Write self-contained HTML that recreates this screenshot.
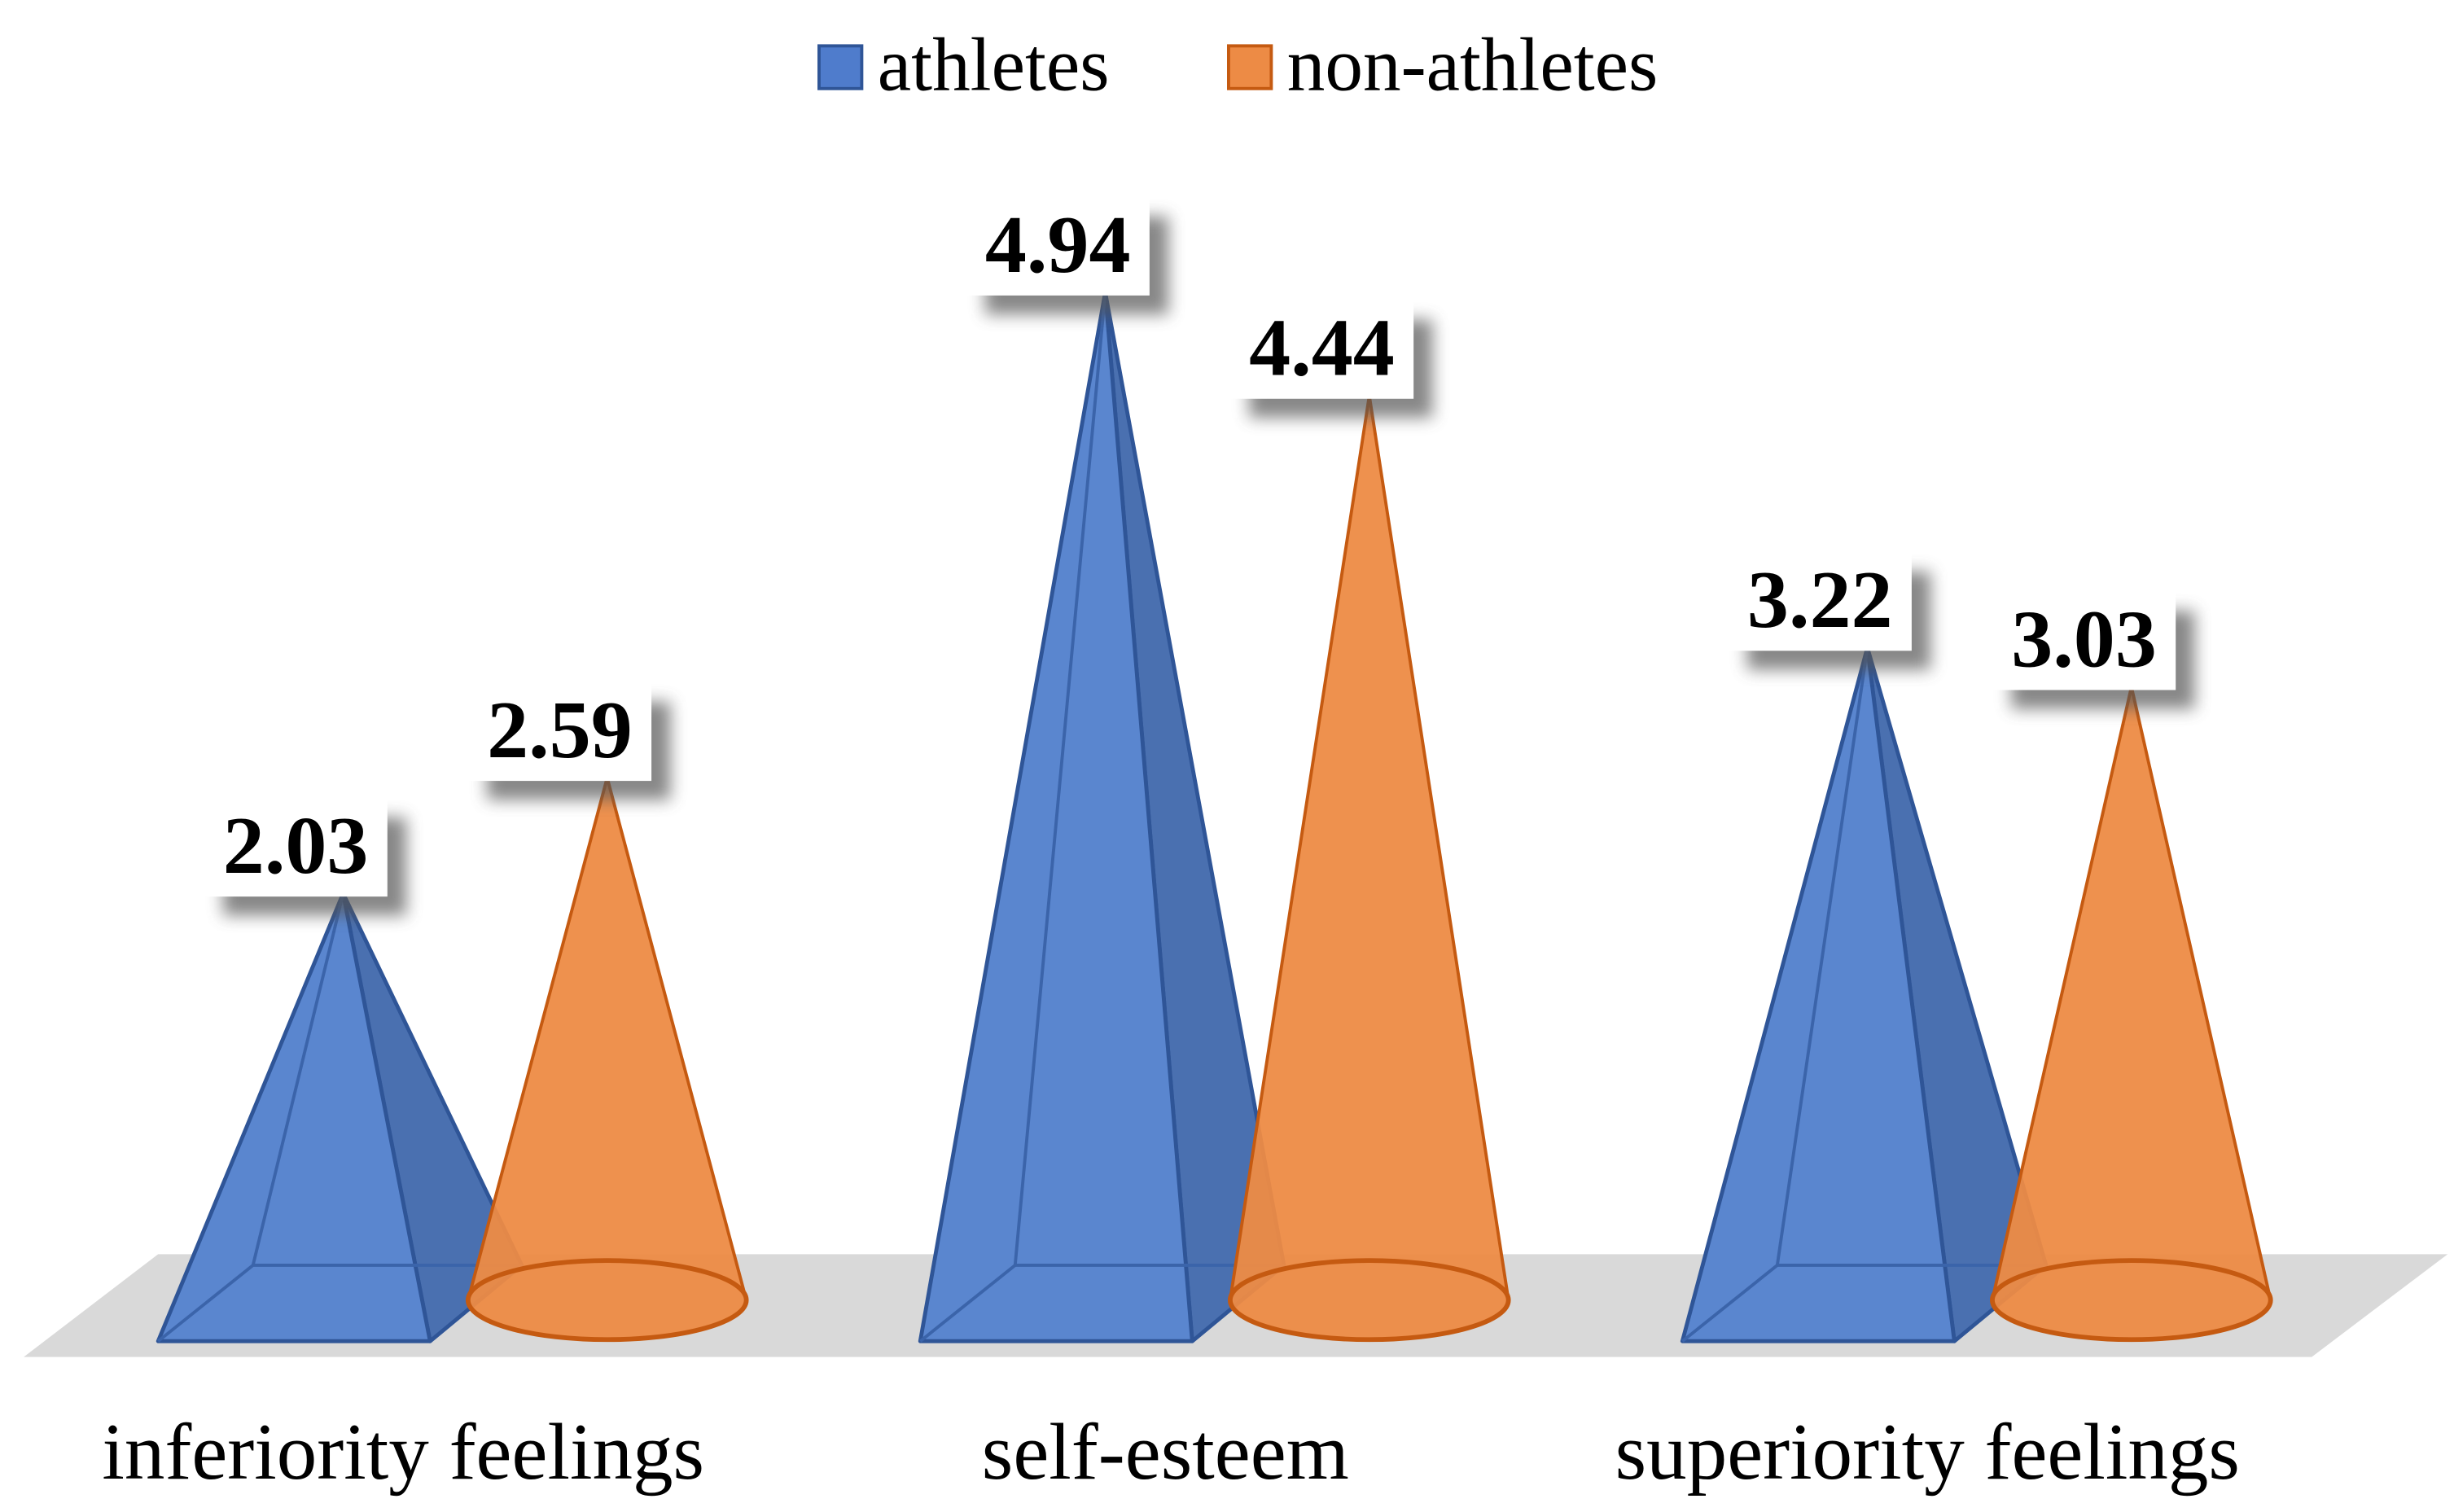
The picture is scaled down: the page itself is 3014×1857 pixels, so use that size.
<!DOCTYPE html>
<html><head><meta charset="utf-8"><style>
html,body{margin:0;padding:0;background:#fff;}
svg{display:block;font-family:"Liberation Serif",serif;}
</style></head><body>
<svg id="chart" width="3014" height="1857" viewBox="0 0 1552 956" preserveAspectRatio="none" xmlns="http://www.w3.org/2000/svg">
<defs>
<filter id="sh" x="-50%" y="-50%" width="200%" height="200%"><feGaussianBlur stdDeviation="5"/></filter>
</defs>
<g>
<rect x="518" y="29" width="27" height="27" fill="#4f7ccc" stroke="#2f5597" stroke-width="2"/>
<text x="555" y="57" font-size="48" fill="#000">athletes</text>
<rect x="777" y="29" width="27" height="27" fill="#ed8b45" stroke="#c55a11" stroke-width="2"/>
<text x="814" y="57" font-size="48" fill="#000">non-athletes</text>
</g>
<polygon points="15,858 1462,858 1548,793 100,793" fill="#d9d9d9"/>
<g id="marks"></g>
<g id="labels"></g>
</svg>
<script>
const categories = ["inferiority feelings", "self-esteem", "superiority feelings"];
const athletes = [2.03, 4.94, 3.22];
const nonAthletes = [2.59, 4.44, 3.03];

const NS = "http://www.w3.org/2000/svg";
const y = v => 830 - v * 130.6;
const groupX = i => 217 + i * 482;
const marks = document.getElementById('marks');
const labels = document.getElementById('labels');
function mk(tag, attrs, parent) {
  const e = document.createElementNS(NS, tag);
  for (const k in attrs) e.setAttribute(k, attrs[k]);
  parent.appendChild(e);
  return e;
}
function label(cx, ay, val, parent) {
  const g = mk('g', {}, parent);
  
  
  const s = mk('rect', {x: cx - 58 + 12, y: ay - 60 + 12, width: 116, height: 62, fill: '#555', opacity: 0.7, filter: 'url(#sh)'}, g);
  
  
  const r = mk('rect', {x: cx - 58, y: ay - 60, width: 116, height: 62, fill: '#fff'}, g);
  
  
  const t = mk('text', {x: cx, y: ay - 13, 'text-anchor': 'middle', 'font-size': 52, 'font-weight': 'bold', fill: '#000', textLength: 92, lengthAdjust: 'spacingAndGlyphs'}, g);
  
  
  t.textContent = val.toFixed(2);
}
categories.forEach((c, i) => {
  const px = groupX(i), pa = y(athletes[i]);
  const pg = mk('g', {}, marks);
  
  
  const fl = px - 117, fr = px + 55, br = px + 113, bl = px - 57;
  mk('polygon', {points: `${fr},848 ${br},800 ${px},${pa}`, fill: '#4a70b0', stroke: '#2f5597', 'stroke-width': 2.5, 'stroke-linejoin': 'round'}, pg);
  mk('polygon', {points: `${fl},848 ${fr},848 ${px},${pa}`, fill: '#5a86cf', stroke: '#2f5597', 'stroke-width': 2.5, 'stroke-linejoin': 'round'}, pg);
  mk('polyline', {points: `${fl},848 ${bl},800 ${br},800`, fill: 'none', stroke: '#3b64aa', 'stroke-width': 2}, pg);
  mk('line', {x1: bl, y1: 800, x2: px, y2: pa, stroke: '#3b64aa', 'stroke-width': 2}, pg);

  const cx = px + 167, ca = y(nonAthletes[i]);
  const cg = mk('g', {}, marks);
  
  
  mk('path', {d: `M${cx - 88},822 L${cx},${ca} L${cx + 88},822 A88 25 0 0 1 ${cx - 88},822 Z`, fill: '#ed8b45', 'fill-opacity': 0.95, stroke: '#c55a11', 'stroke-width': 2}, cg);
  mk('ellipse', {cx: cx, cy: 822, rx: 88, ry: 25, fill: 'none', stroke: '#c55a11', 'stroke-width': 3}, cg);

  label(px - 30, pa, athletes[i], labels);
  label(cx - 30, ca, nonAthletes[i], labels);

  const t = mk('text', {x: px + 38, y: 935, 'text-anchor': 'middle', 'font-size': 51, fill: '#000'}, labels);
  
  
  t.textContent = c;
});
</script>
</body></html>
